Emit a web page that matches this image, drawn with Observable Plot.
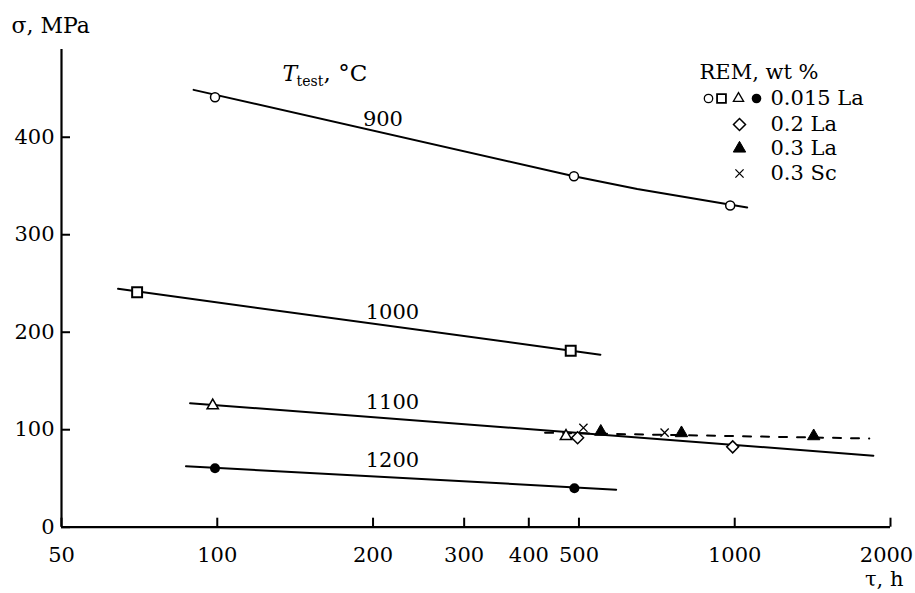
<!DOCTYPE html>
<html><head><meta charset="utf-8">
<script src="https://cdn.jsdelivr.net/npm/d3@7"></script>
<script src="https://cdn.jsdelivr.net/npm/@observablehq/plot@0.6"></script>
<style>body{margin:0;background:#fff}</style>
</head><body><div id="chart"></div>
<script>
const xTicks = [50, 100, 200, 300, 400, 500, 1000, 2000];
const yTicks = [0, 100, 200, 300, 400];
const line900 = [[90, 448.6], [489, 360], [648, 347], [1057, 328]];
const pts900 = [[99, 441], [489, 360], [980, 330]];
const line1000 = [[64.3, 244.5], [550, 177]];
const pts1000 = [[70, 241], [482, 181]];
const line1100 = [[88.6, 127.2], [1853, 73.4]];
const pts1100 = [[98, 124.8], [472, 93.4]];
const line1200 = [[87, 62.6], [590, 38.5]];
const pts1200 = [[99, 60.5], [490, 40]];
const ptsLa02 = [[497, 91.7], [991, 82.4]];
const ptsLa03 = [[551, 98], [789, 96.5], [1421, 93.4]];
const ptsSc03 = [[510, 102], [732, 97]];
const dashLine = [[430, 96.9], [1820, 91]];
const curveLabels = [
  {t: "900", x: 209, y: 412},
  {t: "1000", x: 218, y: 214},
  {t: "1100", x: 218, y: 121.7},
  {t: "1200", x: 218, y: 61.3}
];
const legendTitle = "REM, wt %";
const legendRows = ["0.015 La", "0.2 La", "0.3 La", "0.3 Sc"];

const F = "DejaVu Serif";
const FS = 21;
const X = d => d[0], Y = d => d[1];
const lineOpts = {x: X, y: Y, stroke: "black", strokeWidth: 2};
const openCircle = {x: X, y: Y, r: 4.5, fill: "white", stroke: "black", strokeWidth: 1.5};

// legend helpers (anchored to the top-right corner of the frame)
const L = (dx, dy, o) => Plot.dot([0], {frameAnchor: "top-right", dx, dy, ...o});
const rowDy = [49, 75, 99, 124];

const chart = Plot.plot({
  width: 915, height: 593,
  marginLeft: 61, marginRight: 25, marginTop: 49, marginBottom: 66.3,
  x: {type: "log", domain: [50, 2000], label: null},
  y: {domain: [0, 490], label: null},
  style: {fontFamily: F, fontSize: FS + "px", background: "white", color: "black"},
  marks: [
    Plot.ruleX([50], {y1: 0, y2: 490, strokeWidth: 2.2}),
    Plot.ruleY([0], {x1: 50, x2: 2000, strokeWidth: 2.2}),
    Plot.axisX(xTicks, {tickSize: -9, tickPadding: 29, tickFormat: d => d === 2000 ? "" : String(d), fontSize: FS, strokeWidth: 2, fontFamily: F}),
    Plot.axisX([2000], {tickSize: 0, tickPadding: 20, dx: -4, tickFormat: d => String(d), fontSize: FS, fontFamily: F}),
    Plot.axisY(yTicks, {tickSize: -9, tickPadding: 16, tickFormat: d => String(d), fontSize: FS, strokeWidth: 2, fontFamily: F}),
    Plot.line(line900, lineOpts),
    Plot.line(line1000, lineOpts),
    Plot.line(line1100, lineOpts),
    Plot.line(line1200, lineOpts),
    Plot.line(dashLine, {x: X, y: Y, stroke: "black", strokeWidth: 2, strokeDasharray: "8,10"}),
    Plot.dot(pts900, openCircle),
    Plot.dot(pts1000, {x: X, y: Y, symbol: "square", r: 5.6, fill: "white", stroke: "black", strokeWidth: 2}),
    Plot.dot(pts1100, {x: X, y: Y, symbol: "triangle", r: 4.2, fill: "white", stroke: "black", strokeWidth: 1.5}),
    Plot.dot(pts1200, {x: X, y: Y, r: 5, fill: "black", stroke: "none"}),
    Plot.dot(ptsLa02, {x: X, y: Y, symbol: "diamond2", r: 5.4, fill: "white", stroke: "black", strokeWidth: 1.5}),
    Plot.dot(ptsLa03, {x: X, y: Y, symbol: "triangle", r: 4.6, fill: "black", stroke: "black", strokeWidth: 1}),
    Plot.dot(ptsSc03, {x: X, y: Y, symbol: "times", r: 3.8, stroke: "black", strokeWidth: 1.3}),
    Plot.text(curveLabels, {x: "x", y: "y", text: "t", lineAnchor: "bottom", fontSize: FS, fontFamily: F}),
    // T_test, °C
    Plot.text(["T"], {x: [133.7], y: [458], textAnchor: "start", lineAnchor: "bottom", fontSize: 22, fontStyle: "italic", fontFamily: F}),
    Plot.text(["test"], {x: [133.7], y: [458], dx: 14, dy: 5, textAnchor: "start", lineAnchor: "bottom", fontSize: 14, fontFamily: F}),
    Plot.text([", °C"], {x: [133.7], y: [458], dx: 41, textAnchor: "start", lineAnchor: "bottom", fontSize: 23, fontFamily: F}),
    // axis titles
    Plot.text(["σ, MPa"], {frameAnchor: "top-left", dx: -50, dy: -17, textAnchor: "start", lineAnchor: "bottom", fontSize: 22, fontFamily: F}),
    Plot.text(["τ, h"], {frameAnchor: "bottom-right", dx: 13, dy: 59, textAnchor: "end", lineAnchor: "bottom", fontSize: FS, fontFamily: F}),
    // legend
    Plot.text([legendTitle], {frameAnchor: "top-right", dx: -191, dy: 29, textAnchor: "start", lineAnchor: "bottom", fontSize: FS, fontFamily: F}),
    ...legendRows.map((t, i) => Plot.text([t], {frameAnchor: "top-right", dx: -120, dy: rowDy[i], textAnchor: "start", lineAnchor: "middle", fontSize: FS, fontFamily: F})),
    L(-182, rowDy[0], {r: 4.2, fill: "white", stroke: "black", strokeWidth: 1.3}),
    L(-169, rowDy[0], {symbol: "square", r: 5, fill: "white", stroke: "black", strokeWidth: 1.8}),
    L(-152, rowDy[0], {symbol: "triangle", r: 3.8, fill: "white", stroke: "black", strokeWidth: 1.3}),
    L(-134, rowDy[0], {r: 4.8, fill: "black", stroke: "none"}),
    L(-151, rowDy[1], {symbol: "diamond2", r: 5.4, fill: "white", stroke: "black", strokeWidth: 1.5}),
    L(-151, rowDy[2], {symbol: "triangle", r: 4.6, fill: "black", stroke: "black", strokeWidth: 1}),
    L(-151, rowDy[3], {symbol: "times", r: 3.8, stroke: "black", strokeWidth: 1.3})
  ]
});
document.getElementById("chart").append(chart);
</script>
</body></html>
